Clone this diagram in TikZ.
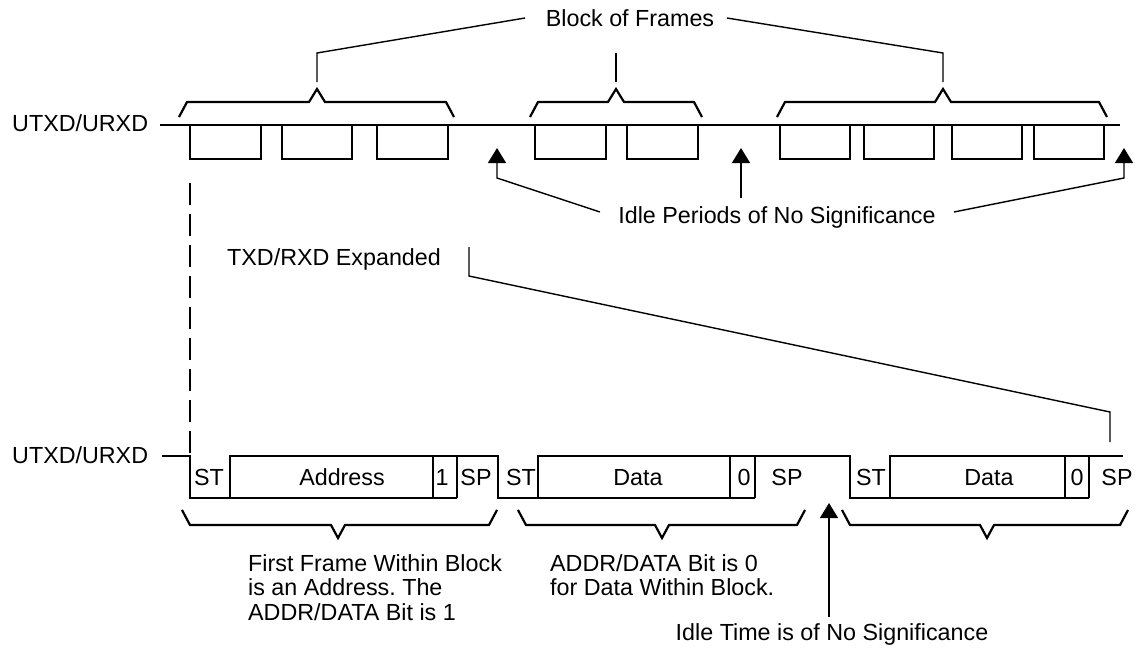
\documentclass[tikz,border=0pt]{standalone}
\usepackage{fontspec}
\setmainfont{Liberation Sans}
\usetikzlibrary{arrows.meta}
\frenchspacing
\begin{document}
\begin{tikzpicture}[x=1pt,y=-1pt,
  wave/.style={line width=2.2pt, line join=miter},
  lead/.style={line width=1.4pt},
  lbl/.style={inner sep=0pt, font=\fontsize{23.3}{24.5}\selectfont},
  tipup/.style={lead, -{Triangle[length=15pt,width=18pt]}},
]
\useasboundingbox (0,0) rectangle (1135,649);

% ---------- top waveform ----------
\node[lbl, anchor=base west] (topsig) at (12,131.4) {UTXD/URXD};
\draw[wave] (160,125) -- (1120,125);
\foreach \a/\b in {190/261,282/352,377/448,535/606,627/698,780/850,864/934,952/1022,1034/1104}
  \draw[wave] (\a,125) |- (\b,159) -- (\b,125);

% top braces
\foreach \l/\p/\r in {179/317/454, 530/616/702, 777/943/1107}
  \draw[wave] (\l,117) -- (\l+8,102) -- (\p-8,102) -- (\p,89) -- (\p+8,102) -- (\r-8,102) -- (\r,117);

\node[lbl, anchor=base] (title) at (630,26.5) {Block of Frames};
\coordinate (tl) at (525,18);
\coordinate (tr) at (727,18);
\draw[lead] (317,82) -- (317,53) -- (tl);
\draw[lead] (616,82) -- (616,53);
\draw[lead] (943,82) -- (943,53) -- (tr);

% idle arrows (top)
\node[lbl, anchor=base] (idle) at (777,223.4) {Idle Periods of No Significance};
\coordinate (il) at (600,212);
\coordinate (ir) at (954,212);
\draw[tipup] (il) -- (497,178) -- (497,148);
\draw[tipup] (741,198) -- (741,148);
\draw[tipup] (ir) -- (1124,178) -- (1124,148);

% expanded
\draw[lead, dash pattern=on 22pt off 9pt] (190,183) -- (190,455);
\node[lbl, anchor=base west] (exp) at (227,265.4) {TXD/RXD Expanded};
\draw[lead] (469,247) -- (469,276) -- (1110,412) -- (1110,442);

% ---------- bottom waveform ----------
\node[lbl, anchor=base west] (botsig) at (12,463.4) {UTXD/URXD};
\draw[wave] (162,456) -- (190,456) -- (190,498) -- (457,498);
\draw[wave] (230,498) -- (230,456) -- (498,456) -- (498,498) -- (755,498);
\draw[wave] (538,498) -- (538,456) -- (850,456) -- (850,498) -- (1089,498);
\draw[wave] (890,498) -- (890,456) -- (1123,456);
\foreach \x in {433,457,730,755,1065,1089} \draw[wave] (\x,456) -- (\x,498);

\foreach \x/\t [count=\i] in {209/ST,342/Address,442/1,476/SP,521/ST,638/Data,744/0,787/SP,871/ST,989/Data,1077/0,1117/SP}
  \node[lbl, anchor=base] (cell\i) at (\x,485.4) {\t};

% bottom braces
\foreach \l/\p/\r in {182/338/497, 518/662/805, 842/987/1128}
  \draw[wave] (\l,510) -- (\l+8,525) -- (\p-7,525) -- (\p,538) -- (\p+7,525) -- (\r-8,525) -- (\r,510);

\node[lbl, anchor=north west, align=left] (first) at (248,554) {First Frame Within Block\\is an Address. The\\ADDR/DATA Bit is 1};
\node[lbl, anchor=north west, align=left] (data) at (550,554) {ADDR/DATA Bit is 0\\for Data Within Block.};
\node[lbl, anchor=base] (idle2) at (832,640.4) {Idle Time is of No Significance};
\draw[tipup] (829,617) -- (829,503);
\end{tikzpicture}
\end{document}
